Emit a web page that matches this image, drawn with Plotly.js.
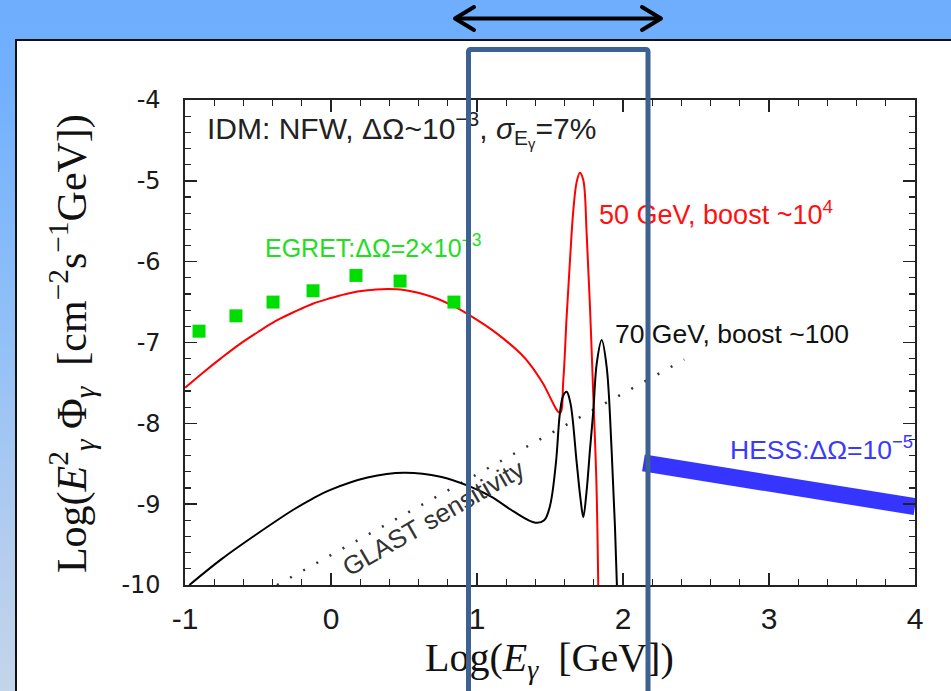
<!DOCTYPE html>
<html>
<head>
<meta charset="utf-8">
<script src="https://cdn.plot.ly/plotly-3.0.1.min.js"></script>
<style>
  html, body { margin: 0; padding: 0; width: 951px; height: 691px; overflow: hidden; }
  body { background: linear-gradient(180deg, #6eaefd 0%, #72b0fd 12%, #8ebff8 45%, #b4cdee 80%, #c3d5ea 100%); position: relative; }
  #panel { position: absolute; left: 15px; top: 39px; width: 960px; height: 680px; background: #ffffff;
           border-top: 2.5px solid #111; border-left: 2.5px solid #111; }
  #chart { position: absolute; left: 0; top: 0; width: 951px; height: 691px; }
  #overlay { position: absolute; left: 0; top: 0; width: 951px; height: 691px; pointer-events: none; }
</style>
</head>
<body>
<div id="panel"></div>
<div id="chart"></div>
<svg id="overlay" width="951" height="691" xmlns="http://www.w3.org/2000/svg">
  <rect x="468.5" y="49.5" width="179.5" height="700" rx="2" ry="2" fill="none" stroke="#3d6191" stroke-width="5"/>
  <line x1="456" y1="18.5" x2="660" y2="18.5" stroke="#000" stroke-width="4"/>
  <polyline points="474,7 455,18.5 474,30" fill="none" stroke="#000" stroke-width="4" stroke-linejoin="round" stroke-linecap="round"/>
  <polyline points="642,7 661,18.5 642,30" fill="none" stroke="#000" stroke-width="4" stroke-linejoin="round" stroke-linecap="round"/>
</svg>
<script>
// ---- data ----
var redX = [-1, -0.875, -0.75, -0.625, -0.5, -0.375, -0.25, -0.125, 0, 0.125, 0.25, 0.35, 0.5, 0.7, 0.85, 1.0, 1.1, 1.2, 1.3, 1.363, 1.45, 1.568,
            1.591, 1.614, 1.637, 1.660, 1.683, 1.705, 1.728, 1.751, 1.774, 1.797, 1.818, 1.832];
var redY = [-7.56, -7.37, -7.19, -7.02, -6.87, -6.73, -6.62, -6.52, -6.45, -6.39, -6.355, -6.34, -6.35, -6.44, -6.56, -6.72, -6.84, -6.98, -7.14, -7.27, -7.50, -7.87,
            -7.47, -6.68, -5.98, -5.36, -5.01, -4.90, -4.99, -5.65, -6.56, -7.68, -8.74, -10.2];

var blackX = [-0.97, -0.75, -0.5, -0.25, -0.125, 0, 0.25, 0.5, 0.75, 0.95, 1.1, 1.25, 1.40, 1.46, 1.50, 1.54, 1.568, 1.59, 1.614,
              1.64, 1.683, 1.71, 1.728, 1.75, 1.775, 1.797, 1.82, 1.854, 1.888, 1.922, 1.945, 1.96];
var blackY = [-10.0, -9.68, -9.36, -9.06, -8.93, -8.82, -8.67, -8.61, -8.66, -8.78, -8.91, -9.09, -9.23, -9.20, -9.02, -8.5, -7.87, -7.66, -7.61,
              -7.75, -8.49, -8.95, -9.16, -8.85, -8.3, -7.84, -7.26, -6.97, -7.30, -8.33, -9.28, -10.1];

var egretX = [-0.904, -0.651, -0.397, -0.123, 0.171, 0.473, 0.842];
var egretY = [-6.86, -6.67, -6.50, -6.36, -6.17, -6.24, -6.50];

var glastX = [-0.37, 2.42];
var glastY = [-10.0, -7.21];

var hessX = [2.14, 4.0];
var hessY = [-8.49, -9.03];

var xTickVals = [-1, 0, 1, 2, 3, 4];
var xTickText = ['-1', '0', '1', '2', '3', '4'];
var yTickVals = [-4, -5, -6, -7, -8, -9, -10];
var yTickText = ['-4', '-5', '-6', '-7', '-8', '-9', '-10'];

// ---- traces ----
var traces = [
  { x: glastX, y: glastY, mode: 'lines', line: { color: '#333', width: 2.5, dash: '2px,13px' }, hoverinfo: 'skip' },
  { x: redX, y: redY, mode: 'lines', line: { color: '#ff0000', width: 2, shape: 'spline', smoothing: 1 }, hoverinfo: 'skip' },
  { x: blackX, y: blackY, mode: 'lines', line: { color: '#000000', width: 2, shape: 'spline', smoothing: 1 }, hoverinfo: 'skip' },
  { x: egretX, y: egretY, mode: 'markers', marker: { symbol: 'square', size: 13, color: '#00dd00' }, hoverinfo: 'skip' },
  { x: hessX, y: hessY, mode: 'lines', line: { color: '#3535ff', width: 17 }, hoverinfo: 'skip' }
];

var axisCommon = {
  ticks: 'inside', ticklen: 12, tickwidth: 1.5, tickcolor: '#222',
  showline: true, linecolor: '#222', linewidth: 1.6, mirror: 'allticks',
  showgrid: false, zeroline: false, tickmode: 'array'
};

var layout = {
  width: 951, height: 691,
  margin: { l: 185, r: 36, t: 100, b: 106 },
  paper_bgcolor: 'rgba(0,0,0,0)', plot_bgcolor: 'rgba(0,0,0,0)',
  showlegend: false,
  xaxis: Object.assign({}, axisCommon, {
    range: [-1, 4], tickvals: xTickVals, ticktext: xTickText,
    tickfont: { family: 'Liberation Sans, Arial, sans-serif', size: 30, color: '#1a1a1a' },
    ticklabelstandoff: 6,
    minor: { tickmode: 'linear', tick0: -1, dtick: 0.2, ticks: 'inside', ticklen: 6, tickwidth: 1.3, tickcolor: '#222' }
  }),
  yaxis: Object.assign({}, axisCommon, {
    range: [-10, -4], tickvals: yTickVals, ticktext: yTickText,
    tickfont: { family: 'DejaVu Sans, sans-serif', size: 24, color: '#1a1a1a' },
    ticklabelstandoff: 18,
    minor: { tickmode: 'linear', tick0: -10, dtick: 0.2, ticks: 'inside', ticklen: 6, tickwidth: 1.3, tickcolor: '#222' }
  }),
  annotations: [
    { xref: 'x', yref: 'y', x: -0.866, y: -4.37, xanchor: 'left', yanchor: 'middle', showarrow: false,
      text: 'IDM: NFW, ΔΩ~10<sup>−3</sup>, <i>σ</i><sub>E<sub>γ</sub></sub>=7%',
      font: { family: 'Liberation Sans, Arial, sans-serif', size: 30, color: '#222' } },
    { xref: 'x', yref: 'y', x: -0.468, y: -5.80, xanchor: 'left', yanchor: 'middle', showarrow: false,
      text: 'EGRET:ΔΩ=2×10<sup>−3</sup>',
      font: { family: 'Liberation Sans, Arial, sans-serif', size: 25, color: '#22dd22' } },
    { xref: 'x', yref: 'y', x: 1.825, y: -5.40, xanchor: 'left', yanchor: 'middle', showarrow: false,
      text: '50 GeV, boost ~10<sup>4</sup>',
      font: { family: 'Liberation Sans, Arial, sans-serif', size: 27, color: '#ff1111' } },
    { xref: 'x', yref: 'y', x: 1.93, y: -6.90, xanchor: 'left', yanchor: 'middle', showarrow: false,
      text: '70 GeV, boost ~100',
      font: { family: 'Liberation Sans, Arial, sans-serif', size: 26.5, color: '#111' } },
    { xref: 'x', yref: 'y', x: 4.0, y: -8.30, xanchor: 'right', yanchor: 'middle', showarrow: false,
      text: 'HESS:ΔΩ=10<sup>−5</sup>',
      font: { family: 'Liberation Sans, Arial, sans-serif', size: 26.5, color: '#3a3aff' } },
    { xref: 'x', yref: 'y', x: 0.70, y: -9.17, xanchor: 'center', yanchor: 'middle', showarrow: false,
      text: 'GLAST sensitivity', textangle: -30,
      font: { family: 'Liberation Sans, Arial, sans-serif', size: 26, color: '#333' } },
    { xref: 'paper', yref: 'paper', x: 0.499, y: -0.155, xanchor: 'center', yanchor: 'middle', showarrow: false,
      text: 'Log(<i>E</i><sub><i>γ</i></sub>  [GeV])',
      font: { family: 'Liberation Serif, Times New Roman, serif', size: 40, color: '#111' } },
    { xref: 'paper', yref: 'paper', x: -0.156, y: 0.497, xanchor: 'center', yanchor: 'middle', showarrow: false,
      textangle: -90,
      text: 'Log(<i>E</i><sup>2</sup><sub><i>γ</i></sub> Φ<sub><i>γ</i></sub>  [cm<sup>−2</sup>s<sup>−1</sup>GeV])',
      font: { family: 'Liberation Serif, Times New Roman, serif', size: 42, color: '#111' } }
  ]
};

Plotly.newPlot('chart', traces, layout, { staticPlot: true, displayModeBar: false });
</script>
</body>
</html>
